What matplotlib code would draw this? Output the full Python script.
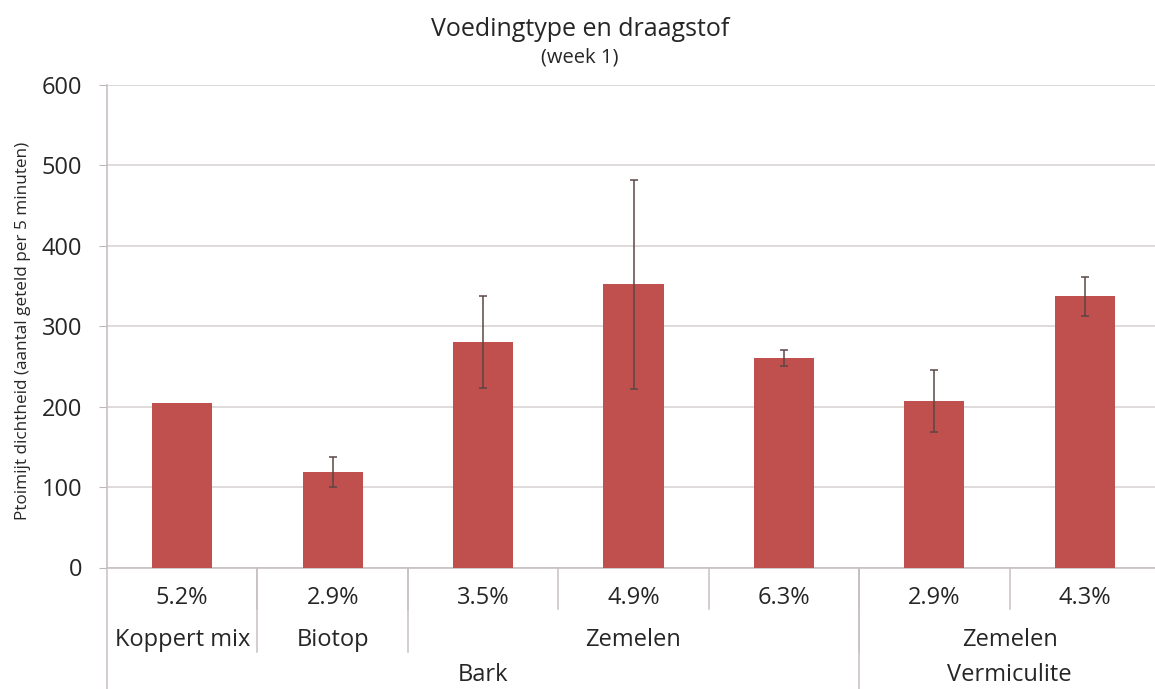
import matplotlib.pyplot as plt
import matplotlib.transforms as mtransforms

# data (week 1)
concentraties = ['5.2%', '2.9%', '3.5%', '4.9%', '6.3%', '2.9%', '4.3%']
voeding = ['Koppert mix', 'Biotop', 'Zemelen', 'Zemelen', 'Zemelen', 'Zemelen', 'Zemelen']
draagstof = ['Bark', 'Bark', 'Bark', 'Bark', 'Bark', 'Vermiculite', 'Vermiculite']
dichtheid = [204, 119, 280, 352, 260, 207, 337]
fout = [0, 19, 57, 130, 10, 38, 24]
y_ticks = [0, 100, 200, 300, 400, 500, 600]

BAR_COLOR = '#C0504D'
GRID_COLOR = '#D9D4D4'
TEXT_COLOR = '#262626'
FONT = 'Open Sans'

plt.rcParams['font.family'] = [FONT, 'DejaVu Sans']


def group_spans(labels, keys):
    # consecutive runs of the same key -> (label, first index, last index)
    spans = []
    start = 0
    for i in range(1, len(labels) + 1):
        if i == len(labels) or keys[i] != keys[start]:
            spans.append((labels[start], start, i - 1))
            start = i
    return spans


W, H = 1155, 689
fig = plt.figure(figsize=(W / 100, H / 100), dpi=100)
left, right, bottom, top = 107, 1160, 567.5, 85
ax = fig.add_axes([left / W, 1 - bottom / H, (right - left) / W, (bottom - top) / H])

x = list(range(len(dichtheid)))
yerr = [e if e > 0 else float('nan') for e in fout]
ax.bar(x, dichtheid, width=0.4, color=BAR_COLOR, zorder=3)
ax.errorbar(x, dichtheid, yerr=yerr, fmt='none', ecolor='#5b4646',
            elinewidth=1.1, capsize=3, capthick=1.1, zorder=4)

ax.set_xlim(-0.5, len(x) - 0.5)
ax.set_ylim(0, 600)
ax.set_yticks(y_ticks)
ax.set_yticklabels([str(t) for t in y_ticks], fontsize=17, color=TEXT_COLOR)
ax.tick_params(axis='y', length=6, color='#BFB8B8', pad=12)
ax.set_xticks([])
ax.grid(axis='y', color=GRID_COLOR, linewidth=1.2, zorder=0)
for s in ['top', 'right']:
    ax.spines[s].set_visible(False)
for s in ['left', 'bottom']:
    ax.spines[s].set_color('#C8C0C0')
    ax.spines[s].set_linewidth(1.2)

ax.set_ylabel('Ptoimijt dichtheid (aantal geteld per 5 minuten)', fontsize=12.3,
              color=TEXT_COLOR)
ax.yaxis.set_label_coords(-0.072, 0.49)

# multi level category axis
trans = mtransforms.blended_transform_factory(ax.transData, ax.transAxes)
lvl_y = [-0.063, -0.150, -0.222]
lvl_bottom = [-0.085, -0.175, -0.26]
line_kw = dict(transform=trans, clip_on=False, color='#C8C0C0', linewidth=1.1)

for i, lab in enumerate(concentraties):
    ax.text(i, lvl_y[0], lab, transform=trans, ha='center', va='center',
            fontsize=17, color=TEXT_COLOR)
    if i > 0:
        ax.plot([i - 0.5, i - 0.5], [0, lvl_bottom[0]], **line_kw)

keys2 = [(d, v) for d, v in zip(draagstof, voeding)]
for lab, a, b in group_spans(voeding, keys2):
    ax.text((a + b) / 2, lvl_y[1], lab, transform=trans, ha='center', va='center',
            fontsize=17, color=TEXT_COLOR)
    if a > 0:
        ax.plot([a - 0.5, a - 0.5], [0, lvl_bottom[1]], **line_kw)

for lab, a, b in group_spans(draagstof, draagstof):
    ax.text((a + b) / 2, lvl_y[2], lab, transform=trans, ha='center', va='center',
            fontsize=17, color=TEXT_COLOR)
    ax.plot([a - 0.5, a - 0.5], [0, lvl_bottom[2]], **line_kw)

fig.text(580 / W, 1 - 30 / H, 'Voedingtype en draagstof', ha='center', va='center',
         fontsize=18, color=TEXT_COLOR)
fig.text(580 / W, 1 - 57 / H, '(week 1)', ha='center', va='center',
         fontsize=14.5, color=TEXT_COLOR)

fig.savefig('out.png', dpi=100)
